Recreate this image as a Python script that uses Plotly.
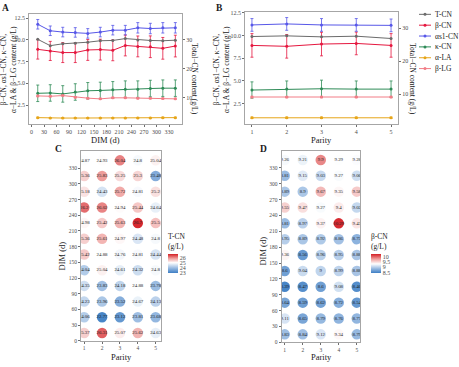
import plotly.graph_objects as go

W, H = 459, 367
SERIF = "Liberation Serif"


def px(x):
    return x / W


def py(y):
    return 1 - y / H


# ---------------- data ----------------
DIM = [15, 45, 75, 105, 135, 165, 195, 225, 255, 285, 315, 345]
PARITY = [1, 2, 3, 4, 5]
DIM_TICKS = [0, 30, 60, 90, 120, 150, 180, 210, 240, 270, 300, 330]
NAMES = ["T-CN", "β-CN", "αs1-CN", "κ-CN", "α-LA", "β-LG"]
COLORS = ["#6B6B6B", "#E5173F", "#5757E8", "#2E8B57", "#E6A519", "#F27C86"]

# Panel A (by DIM). T-CN is on the right axis (Total-CN content)
A_TCN = [30.2, 28.0, 28.65, 28.8, 29.2, 29.7, 29.8, 30.45, 30.0, 29.8, 29.7, 29.9]
A_BCN = [8.91, 8.73, 8.54, 8.54, 8.84, 8.88, 8.80, 9.36, 9.25, 9.21, 9.03, 9.29]
A_BCN_SD = [1.12, 1.10, 1.15, 1.15, 1.20, 1.20, 1.20, 1.20, 1.20, 1.25, 1.25, 1.25]
A_AS1 = [11.80, 11.05, 10.90, 10.86, 10.75, 10.90, 11.12, 11.12, 11.39, 11.31, 11.39, 11.39]
A_AS1_SD = [0.55, 0.55, 0.55, 0.55, 0.55, 0.55, 0.55, 0.55, 0.60, 0.60, 0.60, 0.60]
A_KCN = [3.85, 3.89, 3.78, 4.00, 4.14, 4.18, 4.25, 4.33, 4.33, 4.40, 4.44, 4.44]
A_KCN_SD = [0.95, 0.95, 0.95, 0.95, 0.95, 0.95, 0.95, 0.95, 0.95, 0.95, 0.95, 0.95]
A_ALA = [1.05, 1.00, 1.00, 1.00, 1.00, 1.00, 1.00, 1.00, 1.02, 1.02, 1.05, 1.05]
A_ALA_SD = [0.06, 0.06, 0.06, 0.06, 0.06, 0.06, 0.06, 0.06, 0.06, 0.06, 0.06, 0.06]
A_BLG = [3.55, 3.51, 3.59, 3.40, 3.29, 3.21, 3.33, 3.33, 3.29, 3.29, 3.25, 3.21]
A_BLG_SD = [0.08, 0.08, 0.08, 0.08, 0.08, 0.08, 0.08, 0.08, 0.08, 0.08, 0.08, 0.08]

# Panel B (by parity)
B_TCN = [27.5, 27.7, 27.4, 27.6, 26.9]
B_BCN = [8.90, 8.80, 9.05, 9.12, 8.90]
B_BCN_SD = [1.30, 1.30, 1.30, 1.25, 1.30]
B_AS1 = [11.16, 11.27, 11.16, 11.16, 11.11]
B_AS1_SD = [0.70, 0.70, 0.70, 0.70, 0.70]
B_KCN = [3.98, 4.08, 4.12, 4.08, 4.08]
B_KCN_SD = [0.90, 0.90, 0.95, 0.90, 0.90]
B_ALA = [0.92, 0.92, 0.92, 0.92, 0.92]
B_ALA_SD = [0.08, 0.08, 0.08, 0.08, 0.08]
B_BLG = [3.21, 3.20, 3.21, 3.21, 3.21]
B_BLG_SD = [0.08, 0.08, 0.08, 0.08, 0.08]

# Panel C: T-CN (g/L) by DIM row (15 -> 345) x parity 1..5
C_TCN = [
    [25.37, 26.31, 25.07, 25.62, 24.63],
    [24.06, 22.77, 23.12, 23.81, 23.68],
    [24.23, 23.96, 23.52, 24.67, 24.13],
    [24.35, 23.83, 24.18, 24.88, 23.78],
    [24.04, 25.04, 24.61, 24.32, 24.80],
    [25.42, 24.88, 24.76, 24.81, 24.44],
    [25.36, 25.61, 24.97, 24.48, 24.80],
    [24.98, 25.42, 25.63, 26.70, 25.50],
    [26.20, 26.02, 24.94, 25.44, 24.64],
    [25.18, 24.43, 25.72, 24.81, 25.20],
    [25.36, 25.83, 25.25, 25.30, 23.48],
    [24.87, 24.93, 26.04, 24.80, 25.04],
]
# Panel D: β-CN (g/L)
D_BCN = [
    [8.83, 8.84, 9.12, 9.34, 8.79],
    [9.11, 8.65, 8.79, 8.76, 8.77],
    [8.64, 8.59, 8.62, 8.72, 8.54],
    [8.39, 8.47, 8.60, 9.08, 8.46],
    [8.60, 9.04, 9.00, 8.99, 8.88],
    [9.36, 8.56, 8.96, 8.95, 8.88],
    [8.95, 8.89, 8.92, 8.86, 8.75],
    [8.81, 8.97, 9.37, 10.29, 9.43],
    [9.55, 9.47, 9.27, 9.40, 9.02],
    [8.89, 8.90, 9.67, 9.35, 9.58],
    [8.81, 9.15, 9.03, 9.27, 9.06],
    [9.26, 9.21, 9.90, 9.29, 9.28],
]
C_TICKS = [23, 24, 25, 26]
D_TICKS = [8.5, 9.0, 9.5, 10.0]

fig = go.Figure()


def err(arr):
    return dict(type="data", array=arr, visible=True, thickness=0.8, width=1.5)


def add_lines(x, tcn, others, xa, ya_left, ya_right):
    # T-CN on right axis
    fig.add_trace(go.Scatter(x=x, y=tcn, mode="lines+markers", name=NAMES[0],
                             line=dict(color=COLORS[0], width=1),
                             marker=dict(size=3, color=COLORS[0]),
                             xaxis=xa, yaxis=ya_right, showlegend=False))
    for i, (vals, sd) in enumerate(others, start=1):
        fig.add_trace(go.Scatter(x=x, y=vals, mode="lines+markers", name=NAMES[i],
                                 line=dict(color=COLORS[i], width=1),
                                 marker=dict(size=3, color=COLORS[i]),
                                 error_y=dict(err(sd), color=COLORS[i]),
                                 xaxis=xa, yaxis=ya_left, showlegend=False))


add_lines(DIM, A_TCN, [(A_BCN, A_BCN_SD), (A_AS1, A_AS1_SD), (A_KCN, A_KCN_SD),
                       (A_ALA, A_ALA_SD), (A_BLG, A_BLG_SD)], "x", "y", "y2")
add_lines(PARITY, B_TCN, [(B_BCN, B_BCN_SD), (B_AS1, B_AS1_SD), (B_KCN, B_KCN_SD),
                          (B_ALA, B_ALA_SD), (B_BLG, B_BLG_SD)], "x2", "y3", "y4")


def bubble(mat, xa, ya, cmin, cmax, white, cbx, title, ticks):
    xs, ys, vs, ts = [], [], [], []
    for r, d in enumerate(DIM):
        for c, p in enumerate(PARITY):
            xs.append(p)
            ys.append(d)
            vs.append(mat[r][c])
            ts.append(f"{mat[r][c]:g}")
    mid = (white - cmin) / (cmax - cmin)
    cs = [[0, "#3D7EC4"], [mid * 0.5, "#9BBCE2"], [mid, "#FFFFFF"],
          [mid + (1 - mid) * 0.5, "#EE9C9A"], [1, "#D41E24"]]
    fig.add_trace(go.Scatter(
        x=xs, y=ys, mode="markers+text", text=ts, textposition="middle center",
        textfont=dict(family=SERIF, size=4.9, color="#1F1F1F"),
        marker=dict(size=10.5, color=vs, colorscale=cs, cmin=cmin, cmax=cmax,
                    line=dict(width=0), opacity=0.95,
                    colorbar=dict(x=px(cbx), xanchor="left", y=py(253.5), yanchor="middle",
                                  len=43, lenmode="pixels", thickness=10,
                                  thicknessmode="pixels", outlinewidth=0, xpad=0, ypad=0,
                                  tickvals=ticks, ticks="", ticklabelposition="outside",
                                  tickfont=dict(family=SERIF, size=6, color="#4D4D4D"),
                                  title=dict(text=title, side="top",
                                             font=dict(family=SERIF, size=7.5, color="#1A1A1A")))),
        xaxis=xa, yaxis=ya, showlegend=False, hoverinfo="skip"))


bubble(C_TCN, "x3", "y5", 22.77, 26.70, 24.9, 168, "T-CN<br>(g/L)", C_TICKS)
bubble(D_BCN, "x4", "y6", 8.39, 10.29, 9.3, 371, "β-CN<br>(g/L)", D_TICKS)

# manual legend for panel B (glyph per series, positioned by index)
for i, nm in enumerate(NAMES):
    fig.add_trace(go.Scatter(x=[0, 0.5, 1], y=[i, i, i], mode="lines", line=dict(color=COLORS[i], width=1),
                             xaxis="x5", yaxis="y7", showlegend=False, hoverinfo="skip"))
    fig.add_trace(go.Scatter(x=[0.5], y=[i], mode="markers", marker=dict(size=3, color=COLORS[i]),
                             xaxis="x5", yaxis="y7", showlegend=False, hoverinfo="skip"))
    fig.add_annotation(x=px(433), xref="paper", y=i, yref="y7", text=nm, showarrow=False,
                       xanchor="left", yanchor="middle",
                       font=dict(family=SERIF, size=7.5, color="#1A1A1A"))

TICKFONT = dict(family=SERIF, size=6, color="#4D4D4D")


def ax(**kw):
    d = dict(showline=True, linecolor="#A6A6A6", linewidth=0.8, mirror=True, ticks="outside",
             ticklen=2, tickwidth=0.7, tickcolor="#6E6E6E", tickfont=TICKFONT,
             showgrid=False, zeroline=False)
    d.update(kw)
    return d


fig.update_layout(
    width=W, height=H, margin=dict(l=0, r=0, t=0, b=0),
    paper_bgcolor="white", plot_bgcolor="white", showlegend=False,
    font=dict(family=SERIF),
    # Panel A
    xaxis=ax(domain=[px(29), px(182)], range=[-6, 361], tickvals=DIM_TICKS, anchor="y"),
    yaxis=ax(domain=[py(124), py(12)], range=[0.28, 13.0], tickvals=[2.5, 5.0, 7.5, 10.0, 12.5],
             ticktext=["2.5", "5.0", "7.5", "10.0", "12.5"], anchor="x"),
    yaxis2=ax(overlaying="y", side="right", anchor="x", range=[0.84, 39.0], tickvals=[10, 20, 30],
              showline=False, mirror=False),
    # Panel B
    xaxis2=ax(domain=[px(245), px(398)], range=[0.8, 5.2], tickvals=PARITY, anchor="y3"),
    yaxis3=ax(domain=[py(124), py(10)], range=[0.2, 12.6], tickvals=[2.5, 5.0, 7.5, 10.0, 12.5],
              ticktext=["2.5", "5.0", "7.5", "10.0", "12.5"], anchor="x2"),
    yaxis4=ax(overlaying="y3", side="right", anchor="x2", range=[0.8, 35.0], tickvals=[10, 20, 30],
              showline=False, mirror=False),
    # Panel C
    xaxis3=ax(domain=[px(81), px(161)], range=[0.82, 5.3], tickvals=PARITY, anchor="y5",
              tickfont=dict(family=SERIF, size=5.5, color="#4D4D4D")),
    yaxis5=ax(domain=[py(343.5), py(151)], range=[0, 363], tickvals=DIM_TICKS, anchor="x3",
              tickfont=dict(family=SERIF, size=5.5, color="#4D4D4D")),
    # Panel D
    xaxis4=ax(domain=[px(281.5), px(360)], range=[0.82, 5.18], tickvals=PARITY, anchor="y6",
              tickfont=dict(family=SERIF, size=5.5, color="#4D4D4D")),
    yaxis6=ax(domain=[py(345), py(151)], range=[0, 362], tickvals=DIM_TICKS, anchor="x4",
              tickfont=dict(family=SERIF, size=5.5, color="#4D4D4D")),
    # legend glyph axis
    xaxis5=dict(domain=[px(419), px(431)], range=[0, 1], visible=False, anchor="y7"),
    yaxis7=dict(domain=[py(73), py(7)], range=[5.5, -0.5], visible=False, anchor="x5"),
)

LABEL = dict(family=SERIF, size=8.5, color="#1A1A1A")
PANEL = dict(family=SERIF, size=9.5, color="#1A1A1A")
annos = [
    dict(x=px(5), y=py(6), text="<b>A</b>", font=PANEL),
    dict(x=px(219), y=py(6), text="<b>B</b>", font=PANEL),
    dict(x=px(58), y=py(149), text="<b>C</b>", font=PANEL),
    dict(x=px(263), y=py(149), text="<b>D</b>", font=PANEL),
    dict(x=px(105), y=py(140), text="DIM (d)", font=LABEL),
    dict(x=px(321), y=py(140), text="Parity", font=LABEL),
    dict(x=px(121), y=py(360), text="Parity", font=LABEL),
    dict(x=px(321), y=py(360), text="Parity", font=LABEL),
    dict(x=px(62), y=py(258), text="DIM (d)", font=LABEL, textangle=-90),
    dict(x=px(263), y=py(253), text="DIM (d)", font=LABEL, textangle=-90),
    dict(x=px(8), y=py(69), text="β−CN, αs1−CN, κ−CN,<br>α−LA & β−LG content (g/L)",
         font=dict(family=SERIF, size=7.5, color="#1A1A1A"), textangle=-90),
    dict(x=px(221), y=py(69), text="β−CN, αs1−CN, κ−CN,<br>α−LA & β−LG content (g/L)",
         font=dict(family=SERIF, size=7.5, color="#1A1A1A"), textangle=-90),
    dict(x=px(194), y=py(78), text="Total−CN content (g/L)",
         font=dict(family=SERIF, size=7.5, color="#1A1A1A"), textangle=90),
    dict(x=px(412), y=py(78), text="Total−CN content (g/L)",
         font=dict(family=SERIF, size=7.5, color="#1A1A1A"), textangle=90),
]
for a in annos:
    fig.add_annotation(xref="paper", yref="paper", showarrow=False, xanchor="center",
                       yanchor="middle", **a)

fig.write_html("out.html", config={"displayModeBar": False},
               post_script="document.body.style.margin='0';document.body.style.overflow='hidden';")
